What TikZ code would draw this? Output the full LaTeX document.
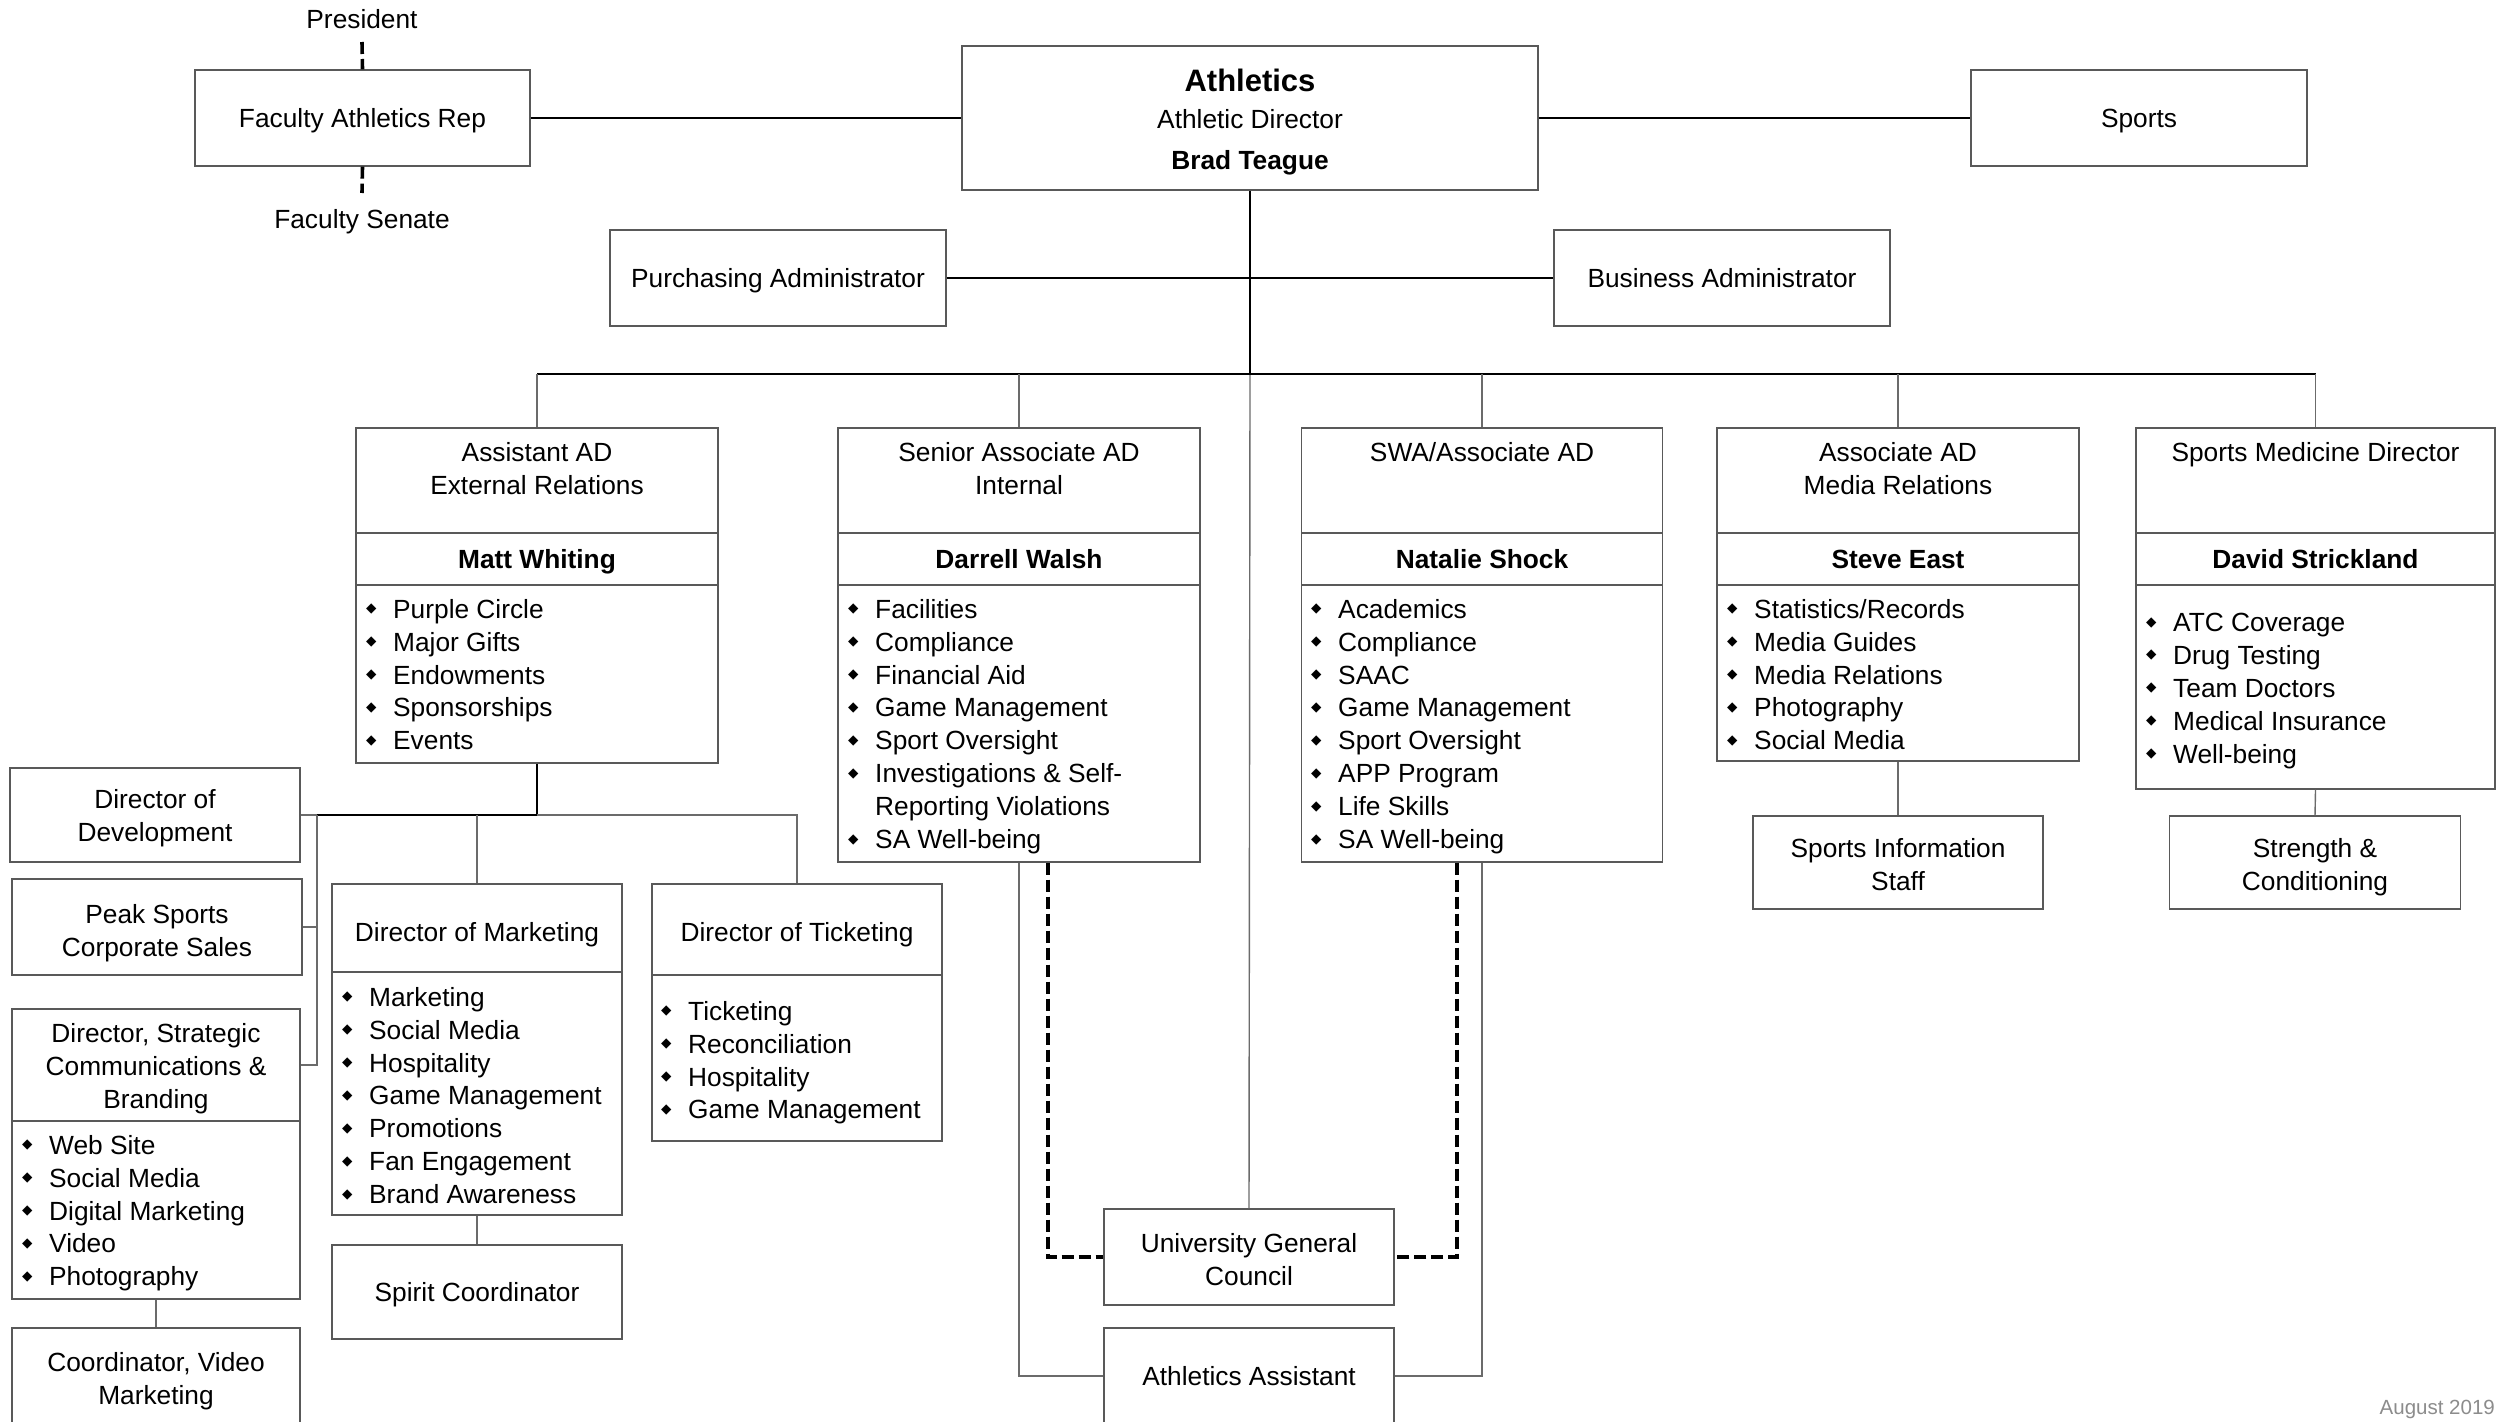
\documentclass[tikz,border=0pt]{standalone}
\usepackage{fontspec}
\setmainfont{Liberation Sans}
\newfontfamily\dejavu{DejaVu Sans}
\newcommand\fsz{\fontsize{26.3}{32.9}\selectfont}
\newcommand\mybul{\raisebox{5.5pt}{\dejavu\fontsize{13.5}{13.5}\selectfont ◆}}
\newcommand\bitem[1]{\makebox[27pt][l]{\mybul}#1}
\newcommand\bcont[1]{\hspace*{27pt}#1}
\definecolor{bcol}{gray}{0.35}
\definecolor{lcol}{gray}{0.42}
\begin{document}
\begin{tikzpicture}[x=1pt,y=-1pt,
  bx/.style={draw=bcol, line width=1.4pt, inner sep=0pt, align=center, font=\fsz, fill=white},
  one/.style={text height=19.4pt, text depth=0pt},
  tx/.style={inner sep=0pt, align=center, font=\fsz},
  lst/.style={inner sep=0pt, align=left, font=\fsz, anchor=north west},
  ln/.style={draw=lcol, line width=1.4pt},
  lnk/.style={draw=black, line width=1.6pt},
  thk/.style={draw=black, line width=2.2pt},
  dsh/.style={draw=black, line width=3.6pt, dash pattern=on 12pt off 5pt},
]
\useasboundingbox (0,0) rectangle (2507,1421);
\fill[white] (0,0) rectangle (2507,1421);

% ---- top row
\node[bx, one, minimum width=335pt, minimum height=96pt] (far) at (362.5,118) {Faculty Athletics Rep};
\node[bx, minimum width=576pt, minimum height=144pt] (ath) at (1250,118) {};
\node[tx, font=\bfseries\fontsize{31}{36}\selectfont, text height=22.6pt, text depth=0pt] (athT) at (1250,80) {Athletics};
\node[tx, one] (athD) at (1250,119) {Athletic Director};
\node[tx, one, font=\fsz\bfseries] (athN) at (1250,160) {Brad Teague};
\node[bx, one, minimum width=336pt, minimum height=96pt] (spo) at (2139,118) {Sports};
\node[tx, one] (pres) at (362,19) {President};
\node[tx, one] (sen) at (362,219) {Faculty Senate};
\coordinate (presC) at (362,42);
\coordinate (senC) at (362,193);

\node[bx, one, minimum width=336pt, minimum height=96pt] (pur) at (778,278) {Purchasing Administrator};
\node[bx, one, minimum width=336pt, minimum height=96pt] (bus) at (1722,278) {Business Administrator};

% ---- head boxes
% Matt
\node[bx, minimum width=362pt, minimum height=105pt] (mattT) at (537,480.5) {};
\node[bx, one, font=\fsz\bfseries, minimum width=362pt, minimum height=52pt] (mattN) at (537,559) {Matt Whiting};
\node[bx, minimum width=362pt, minimum height=178pt] (mattL) at (537,674) {};
\node[tx, anchor=north] (mattTt) at (537,442) {Assistant AD\\External Relations};
\node[lst] (mattLt) at (366,599) {\bitem{Purple Circle}\\\bitem{Major Gifts}\\\bitem{Endowments}\\\bitem{Sponsorships}\\\bitem{Events}};
% Darrell
\node[bx, minimum width=362pt, minimum height=105pt] (darT) at (1019,480.5) {};
\node[bx, one, font=\fsz\bfseries, minimum width=362pt, minimum height=52pt] (darN) at (1019,559) {Darrell Walsh};
\node[bx, minimum width=362pt, minimum height=277pt] (darL) at (1019,723.5) {};
\node[tx, anchor=north] (darTt) at (1019,442) {Senior Associate AD\\Internal};
\node[lst] (darLt) at (848,599) {\bitem{Facilities}\\\bitem{Compliance}\\\bitem{Financial Aid}\\\bitem{Game Management}\\\bitem{Sport Oversight}\\\bitem{Investigations \& Self-}\\\bcont{Reporting Violations}\\\bitem{SA Well-being}};
% Natalie
\node[bx, minimum width=361pt, minimum height=105pt] (natT) at (1482,480.5) {};
\node[bx, one, font=\fsz\bfseries, minimum width=361pt, minimum height=52pt] (natN) at (1482,559) {Natalie Shock};
\node[bx, minimum width=361pt, minimum height=277pt] (natL) at (1482,723.5) {};
\node[tx, anchor=north] (natTt) at (1482,442) {SWA/Associate AD};
\node[lst] (natLt) at (1311,599) {\bitem{Academics}\\\bitem{Compliance}\\\bitem{SAAC}\\\bitem{Game Management}\\\bitem{Sport Oversight}\\\bitem{APP Program}\\\bitem{Life Skills}\\\bitem{SA Well-being}};
% Steve
\node[bx, minimum width=362pt, minimum height=105pt] (steT) at (1898,480.5) {};
\node[bx, one, font=\fsz\bfseries, minimum width=362pt, minimum height=52pt] (steN) at (1898,559) {Steve East};
\node[bx, minimum width=362pt, minimum height=176pt] (steL) at (1898,673) {};
\node[tx, anchor=north] (steTt) at (1898,442) {Associate AD\\Media Relations};
\node[lst] (steLt) at (1727,599) {\bitem{Statistics/Records}\\\bitem{Media Guides}\\\bitem{Media Relations}\\\bitem{Photography}\\\bitem{Social Media}};
% David
\node[bx, minimum width=359pt, minimum height=105pt] (davT) at (2315.5,480.5) {};
\node[bx, one, font=\fsz\bfseries, minimum width=359pt, minimum height=52pt] (davN) at (2315.5,559) {David Strickland};
\node[bx, minimum width=359pt, minimum height=204pt] (davL) at (2315.5,687) {};
\node[tx, anchor=north] (davTt) at (2315.5,442) {Sports Medicine Director};
\node[lst] (davLt) at (2146,613) {\bitem{ATC Coverage}\\\bitem{Drug Testing}\\\bitem{Team Doctors}\\\bitem{Medical Insurance}\\\bitem{Well-being}};

% ---- left subtree
\node[bx, minimum width=290pt, minimum height=94pt] (dev) at (155,815) {};
\node[tx, anchor=north] (devt) at (155,789) {Director of\\Development};
\node[bx, minimum width=290pt, minimum height=96pt] (peak) at (157,927) {};
\node[tx, anchor=north] (peakt) at (157,904) {Peak Sports\\Corporate Sales};
\node[bx, minimum width=288pt, minimum height=112pt] (comT) at (156,1065) {};
\node[tx, anchor=north] (comTt) at (156,1023) {Director, Strategic\\Communications \&\\Branding};
\node[bx, minimum width=288pt, minimum height=178pt] (comL) at (156,1210) {};
\node[lst] (comLt) at (22,1135) {\bitem{Web Site}\\\bitem{Social Media}\\\bitem{Digital Marketing}\\\bitem{Video}\\\bitem{Photography}};
\node[bx, minimum width=288pt, minimum height=96pt] (coord) at (156,1376) {};
\node[tx, anchor=north] (coordt) at (156,1352) {Coordinator, Video\\Marketing};

\node[bx, one, minimum width=290pt, minimum height=88pt] (mktT) at (477,928) {};
\node[tx, one] (mktTt) at (477,932) {Director of Marketing};
\node[bx, minimum width=290pt, minimum height=243pt] (mktL) at (477,1093.5) {};
\node[lst] (mktLt) at (342,987) {\bitem{Marketing}\\\bitem{Social Media}\\\bitem{Hospitality}\\\bitem{Game Management}\\\bitem{Promotions}\\\bitem{Fan Engagement}\\\bitem{Brand Awareness}};
\node[bx, one, minimum width=290pt, minimum height=94pt] (spi) at (477,1292) {Spirit Coordinator};

\node[bx, minimum width=290pt, minimum height=91pt] (tktT) at (797,929.5) {};
\node[tx, one] (tktTt) at (797,932) {Director of Ticketing};
\node[bx, minimum width=290pt, minimum height=166pt] (tktL) at (797,1058) {};
\node[lst] (tktLt) at (661,1001) {\bitem{Ticketing}\\\bitem{Reconciliation}\\\bitem{Hospitality}\\\bitem{Game Management}};

% ---- centre bottom
\node[bx, minimum width=290pt, minimum height=96pt] (ugc) at (1249,1257) {};
\node[tx, anchor=north] (ugct) at (1249,1233) {University General\\Council};
\node[bx, one, minimum width=290pt, minimum height=96pt] (aa) at (1249,1376) {Athletics Assistant};

% ---- right subtree
\node[bx, minimum width=290pt, minimum height=93pt] (sis) at (1898,862.5) {};
\node[tx, anchor=north] (sist) at (1898,838) {Sports Information\\Staff};
\node[bx, minimum width=291pt, minimum height=93pt] (str) at (2315,862.5) {};
\node[tx, anchor=north] (strt) at (2315,838) {Strength \&\\Conditioning};

\node[tx, anchor=east, text=black!45, font=\fontsize{20.5}{24}\selectfont, text height=15pt, text depth=0pt] (date) at (2495,1407) {August 2019};

% ---- connectors
\coordinate (athJ) at (1250,374);
\draw[dsh] (presC) -- (far.north);
\draw[dsh] (far.south) -- (senC);
\draw[lnk] (far.east) -- (ath.west);
\draw[lnk] (ath.east) -- (spo.west);
\draw[lnk] (pur.east) -- (bus.west);
\draw[lnk] (ath.south) -- (athJ);
\draw[ln] (athJ) -- (ugc.north);
\draw[lnk] (mattT.north |- athJ) -- (davT.north |- athJ);
\draw[ln] (mattT.north |- athJ) -- (mattT.north);
\draw[ln] (darT.north |- athJ) -- (darT.north);
\draw[ln] (natT.north |- athJ) -- (natT.north);
\draw[ln] (steT.north |- athJ) -- (steT.north);
\draw[ln] (davT.north |- athJ) -- (davT.north);

\coordinate (mJ) at (537,815);
\coordinate (mL) at (317,815);
\draw[thk] (mattL.south) -- (mJ) -- (mL);
\draw[ln] (mJ) -- (tktT.north |- mJ) -- (tktT.north);
\draw[ln] (mktT.north |- mJ) -- (mktT.north);
\draw[ln] (dev.east) -- (mL);
\draw[ln] (mL) |- (comT.east);
\draw[ln] (mL |- peak.east) -- (peak.east);
\draw[ln] (comL.south) -- (coord.north);
\draw[ln] (mktL.south) -- (spi.north);

\draw[ln] (steL.south) -- (sis.north);
\draw[ln] (davL.south) -- (str.north);

\draw[ln] (darL.south) |- (aa.west);
\draw[ln] (natL.south) |- (aa.east);
\draw[dsh] ([xshift=29pt]darL.south) |- (ugc.west);
\draw[dsh] ([xshift=-25pt]natL.south) |- (ugc.east);
\end{tikzpicture}
\end{document}
